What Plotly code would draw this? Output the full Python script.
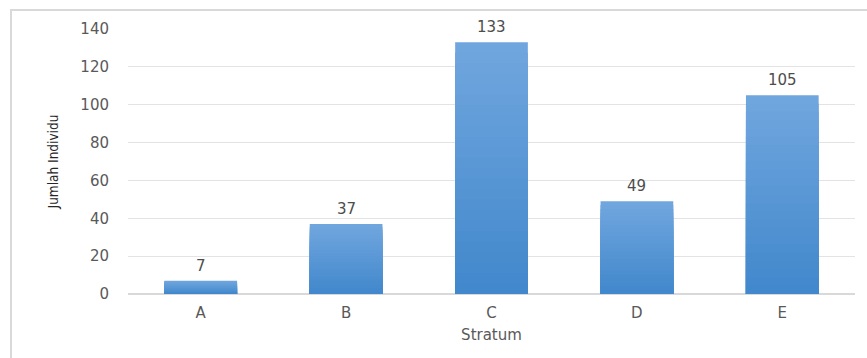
import plotly.graph_objects as go

# Jumlah individu per stratum
strata = ["A", "B", "C", "D", "E"]
counts = [7, 37, 133, 49, 105]
y_ticks = [0, 20, 40, 60, 80, 100, 120, 140]

# vertical gradient: light at the top of each bar, darker at its base
top_rgb = (112, 166, 222)
bottom_rgb = (66, 136, 204)
steps = 24

BASE_FONT = "DejaVu Sans, Open Sans, sans-serif"

fig = go.Figure()
for k in range(steps):
    frac = (steps - k) / steps          # bar height fraction for this layer
    t = k / (steps - 1)
    rgb = tuple(round(top_rgb[i] + (bottom_rgb[i] - top_rgb[i]) * t) for i in range(3))
    fig.add_trace(go.Bar(
        x=strata,
        y=[v * frac for v in counts],
        marker=dict(color="rgb(%d,%d,%d)" % rgb, line=dict(width=0)),
        hoverinfo="skip",
        showlegend=False,
    ))

# value labels above the bars
annotations = [
    dict(x=s, y=v, xref="x", yref="y", text=str(v), showarrow=False,
         yanchor="bottom", yshift=4,
         font=dict(family=BASE_FONT, size=15, color="#4d4d4d"))
    for s, v in zip(strata, counts)
]

W, H = 867, 358
ml, mr, mt, mb = 128, 12, 29, 64
pw, ph = W - ml - mr, H - mt - mb

fig.update_layout(
    width=W, height=H,
    margin=dict(l=ml, r=mr, t=mt, b=mb, pad=0),
    barmode="overlay",
    bargap=0.5,
    plot_bgcolor="white",
    paper_bgcolor="white",
    font=dict(family=BASE_FONT, size=15, color="#595959"),
    annotations=annotations,
    xaxis=dict(
        title=dict(text="Stratum", font=dict(family=BASE_FONT, size=15, color="#595959"), standoff=8),
        showline=True, linecolor="#d9d9d9", linewidth=1,
        ticks="", showgrid=False, ticklabelstandoff=5,
        tickfont=dict(family=BASE_FONT, size=15, color="#595959"),
    ),
    yaxis=dict(
        title=dict(text="Jumlah Individu",
                   font=dict(family="DejaVu Sans Condensed, Liberation Sans, Arial, sans-serif",
                             size=13.5, color="#262626"),
                   standoff=18),
        range=[0, 140], tickvals=y_ticks,
        showgrid=True, gridcolor="#e3e3e3", gridwidth=1,
        zeroline=True, zerolinecolor="#d9d9d9",
        ticks="", ticklabelstandoff=18,
        tickfont=dict(family=BASE_FONT, size=15, color="#595959"),
    ),
    shapes=[dict(
        type="rect", xref="paper", yref="paper",
        x0=(11 - ml) / pw, x1=(W + 20 - ml) / pw,
        y0=-(H - mt + 20 - ph) / ph, y1=1 + (mt - 10) / ph,
        line=dict(color="#d9d9d9", width=2), fillcolor="rgba(0,0,0,0)",
        layer="below",
    )],
)

fig.write_html("out.html")
